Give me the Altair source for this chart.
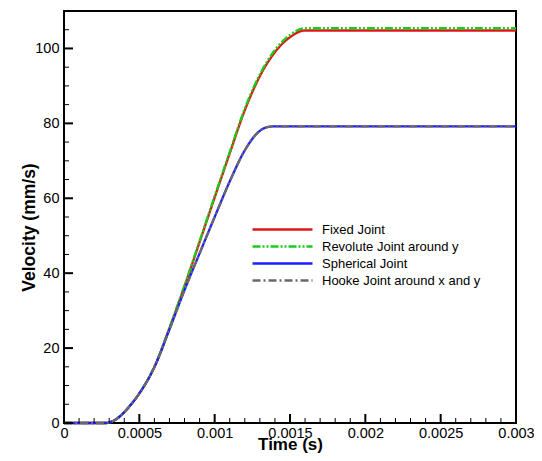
import altair as alt
import pandas as pd

series_names = ["Fixed Joint", "Revolute Joint around y", "Spherical Joint", "Hooke Joint around x and y"]
series_colors = ["#e01515", "#1ccc1c", "#1e1eff", "#6a6a6a"]
series_dashes = [[1, 0], [8, 2, 2, 2, 2, 2], [1, 0], [8, 3, 2, 3]]

time_fixed = [0, 0.00028, 0.0003, 0.00035, 0.0004, 0.00045, 0.0005, 0.0006, 0.0007, 0.0008,
              0.0009, 0.001, 0.0011, 0.0012, 0.0013, 0.0014, 0.0015, 0.0016, 0.003]
vel_fixed = [0, 0, 0.15, 1.1, 2.9, 5.2, 7.9, 15.0, 25.3, 36.5,
             48.3, 60.2, 72.0, 83.5, 92.6, 99.0, 103.0, 104.8, 104.8]

time_revolute = [0, 0.00028, 0.0003, 0.00035, 0.0004, 0.00045, 0.0005, 0.0006, 0.0007, 0.0008,
                 0.0009, 0.001, 0.0011, 0.0012, 0.0013, 0.0014, 0.0015, 0.0016, 0.003]
vel_revolute = [0, 0, 0.15, 1.1, 2.9, 5.2, 7.9, 15.1, 25.5, 36.8,
                48.6, 60.6, 72.4, 84.0, 93.1, 99.6, 103.6, 105.4, 105.4]

time_spherical = [0, 0.00028, 0.0003, 0.00035, 0.0004, 0.00045, 0.0005, 0.0006, 0.0007, 0.0008,
                  0.0009, 0.001, 0.0011, 0.0012, 0.0013, 0.00135, 0.0014, 0.003]
vel_spherical = [0, 0, 0.15, 1.1, 2.9, 5.2, 7.9, 14.9, 25.0, 35.5,
                 45.3, 55.0, 64.5, 72.8, 78.0, 79.0, 79.2, 79.2]

time_hooke = [0, 0.00028, 0.0003, 0.00035, 0.0004, 0.00045, 0.0005, 0.0006, 0.0007, 0.0008,
              0.0009, 0.001, 0.0011, 0.0012, 0.0013, 0.00135, 0.0014, 0.003]
vel_hooke = [0, 0, 0.15, 1.1, 2.9, 5.2, 7.9, 14.9, 25.0, 35.5,
             45.3, 55.0, 64.5, 72.8, 78.0, 79.0, 79.2, 79.2]

x_major = [0, 0.0005, 0.001, 0.0015, 0.002, 0.0025, 0.003]
x_minor = [0.0001, 0.0002, 0.0003, 0.0004, 0.0006, 0.0007, 0.0008, 0.0009,
           0.0011, 0.0012, 0.0013, 0.0014, 0.0016, 0.0017, 0.0018, 0.0019,
           0.0021, 0.0022, 0.0023, 0.0024, 0.0026, 0.0027, 0.0028, 0.0029]
y_major = [0, 20, 40, 60, 80, 100]
y_minor = [5, 10, 15, 25, 30, 35, 45, 50, 55, 65, 70, 75, 85, 90, 95, 105]

rows = []
for name, ts, vs in zip(series_names,
                        [time_fixed, time_revolute, time_spherical, time_hooke],
                        [vel_fixed, vel_revolute, vel_spherical, vel_hooke]):
    for t, v in zip(ts, vs):
        rows.append({"series": name, "t": t, "v": v})
df = pd.DataFrame(rows)

FONT = "Liberation Sans"
W, H = 452, 412

x_scale = alt.Scale(domain=[0, 0.003], nice=False, zero=False)
y_scale = alt.Scale(domain=[0, 110], nice=False, zero=False)
color_scale = alt.Scale(domain=series_names, range=series_colors)
dash_scale = alt.Scale(domain=series_names, range=series_dashes)

x_axis = alt.Axis(title="Time (s)", values=x_major, format=".4~f", tickSize=0, domain=False,
                  grid=False, labelPadding=3, labelFontSize=14.5, labelFont=FONT,
                  labelColor="black", labelFlush=False, titleFont=FONT, titleFontSize=17,
                  titleFontWeight="bold", titleColor="black", titleX=W / 2, titleY=26.5,
                  titleBaseline="alphabetic")
y_axis = alt.Axis(title="Velocity (mm/s)", values=y_major, tickSize=0, domain=False,
                  grid=False, labelPadding=5, labelFontSize=14.5, labelFont=FONT,
                  labelColor="black", labelFlush=False, titleFont=FONT, titleFontSize=17.5,
                  titleFontWeight="bold", titleColor="black", titleX=-35, titleY=216,
                  titleBaseline="middle")

legend = alt.Legend(title=None, orient="none", legendX=212, legendY=212,
                    symbolType="M-6,0H6", symbolSize=100, symbolStrokeWidth=2.5,
                    labelFont=FONT, labelFontSize=13, labelColor="black", labelOffset=33,
                    rowPadding=3, padding=0, labelLimit=300)

layers = []
for name in series_names:
    layers.append(
        alt.Chart(df).transform_filter(alt.datum.series == name)
        .mark_line(strokeWidth=2.3, interpolate="monotone")
        .encode(
            x=alt.X("t:Q", scale=x_scale, axis=x_axis),
            y=alt.Y("v:Q", scale=y_scale, axis=y_axis),
            color=alt.Color("series:N", scale=color_scale, legend=legend),
            strokeDash=alt.StrokeDash("series:N", scale=dash_scale, legend=legend),
        )
    )

xmaj = alt.Chart(pd.DataFrame({"t": x_major})).mark_rule(color="black", strokeWidth=2).encode(
    x=alt.X("t:Q", scale=x_scale, axis=x_axis), y=alt.value(H), y2=alt.value(H - 9))
xmin = alt.Chart(pd.DataFrame({"t": x_minor})).mark_rule(color="black", strokeWidth=1).encode(
    x=alt.X("t:Q", scale=x_scale, axis=x_axis), y=alt.value(H), y2=alt.value(H - 5))
ymaj = alt.Chart(pd.DataFrame({"v": y_major})).mark_rule(color="black", strokeWidth=2).encode(
    y=alt.Y("v:Q", scale=y_scale, axis=y_axis), x=alt.value(0), x2=alt.value(9))
ymin = alt.Chart(pd.DataFrame({"v": y_minor})).mark_rule(color="black", strokeWidth=1).encode(
    y=alt.Y("v:Q", scale=y_scale, axis=y_axis), x=alt.value(0), x2=alt.value(5))

chart = alt.layer(*layers, xmaj, xmin, ymaj, ymin).properties(
    width=W, height=H,
    padding={"left": 56, "top": 3, "right": 18, "bottom": 30},
    autosize=alt.AutoSizeParams(type="none"),
).configure_view(stroke="black", strokeWidth=2)

chart.save("out.html", embed_options={"renderer": "svg", "actions": False})
